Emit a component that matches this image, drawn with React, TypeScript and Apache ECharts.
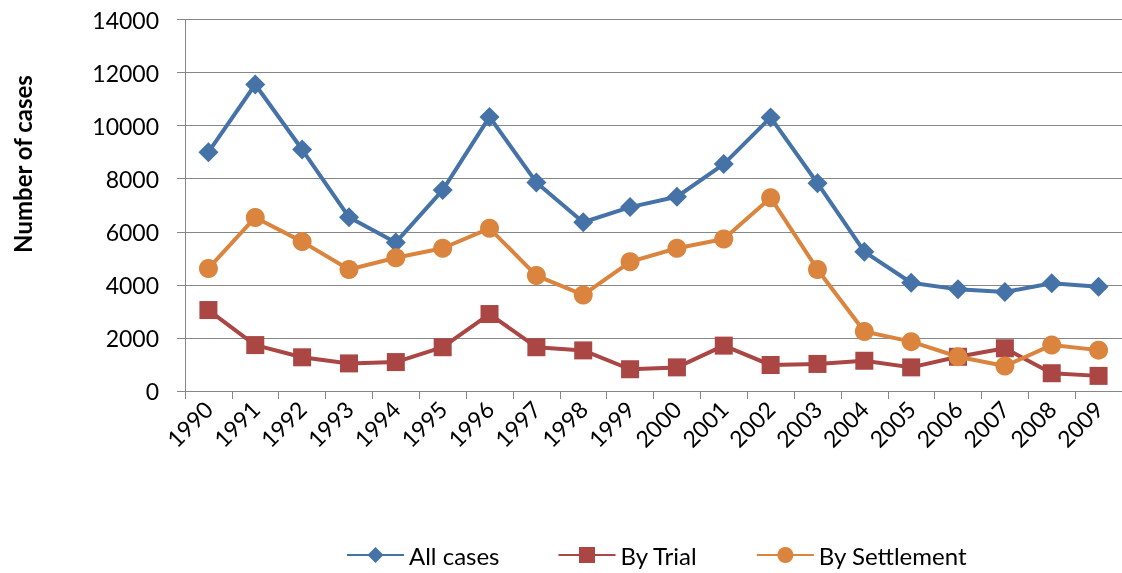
import React, { useEffect, useRef } from "react";
import * as echarts from "echarts";

const years = ["1990","1991","1992","1993","1994","1995","1996","1997","1998","1999","2000","2001","2002","2003","2004","2005","2006","2007","2008","2009"];
const allCases = [9000,11550,9100,6550,5600,7570,10330,7860,6360,6930,7320,8550,10310,7830,5250,4080,3830,3730,4060,3930];
const byTrial = [3050,1730,1270,1040,1090,1650,2900,1650,1530,820,890,1710,980,1020,1140,890,1290,1610,670,570];
const bySettlement = [4620,6540,5630,4580,5020,5380,6130,4350,3620,4870,5380,5730,7280,4580,2240,1860,1290,940,1730,1540];
const yTicks = [0, 2000, 4000, 6000, 8000, 10000, 12000, 14000];

const FONT = "Lato";

export default function App() {
  const ref = useRef<HTMLDivElement>(null);
  useEffect(() => {
    if (!ref.current) return;
    const chart = echarts.init(ref.current, null, { renderer: "svg" });
    const mk = (name: string, data: number[], color: string, symbol: string, size: number) => ({
      name,
      type: "line",
      data,
      symbol,
      symbolSize: size,
      showSymbol: true,
      lineStyle: { width: 4, color },
      itemStyle: { color },
      emphasis: { disabled: true },
    });
    chart.setOption({
      animation: false,
      textStyle: { fontFamily: FONT },
      grid: { left: 185, top: 19.5, width: 940, height: 371.5, containLabel: false },
      xAxis: {
        type: "category",
        data: years,
        boundaryGap: true,
        axisLine: { lineStyle: { color: "#868686", width: 1 } },
        axisTick: { show: true, length: 8, alignWithLabel: false, lineStyle: { color: "#868686" } },
        axisLabel: { rotate: 45, fontSize: 23, color: "#000", fontFamily: FONT, margin: 14, interval: 0 },
      },
      yAxis: {
        type: "value",
        min: yTicks[0],
        max: yTicks[yTicks.length - 1],
        interval: 2000,
        axisLine: { show: true, lineStyle: { color: "#868686", width: 1 } },
        axisTick: { show: true, length: 8, lineStyle: { color: "#868686" } },
        splitLine: { show: true, lineStyle: { color: "#868686", width: 1 } },
        axisLabel: {
          fontSize: 23,
          color: "#000",
          fontFamily: FONT,
          margin: 26,
          formatter: (v: number) => String(v),
        },
      },
      legend: {
        left: 346,
        top: 543,
        padding: 0,
        itemWidth: 57,
        itemHeight: 20,
        itemGap: 58,
        textStyle: { fontSize: 24, color: "#000", fontFamily: FONT },
        data: ["All cases", "By Trial", "By Settlement"],
      },
      graphic: [
        {
          type: "text",
          x: 22,
          y: 164,
          rotation: Math.PI / 2,
          style: {
            text: "Number of cases",
            font: `bold 24px ${FONT}`,
            fill: "#000",
            textAlign: "center",
            textVerticalAlign: "middle",
          },
        },
      ],
      series: [
        mk("All cases", allCases, "#4572A7", "diamond", 20),
        mk("By Trial", byTrial, "#AA4643", "rect", 18),
        mk("By Settlement", bySettlement, "#DB843D", "circle", 19),
      ],
    });
    return () => chart.dispose();
  }, []);
  return <div ref={ref} style={{ position: "fixed", left: 0, top: 0, width: 1122, height: 573 }} />;
}
